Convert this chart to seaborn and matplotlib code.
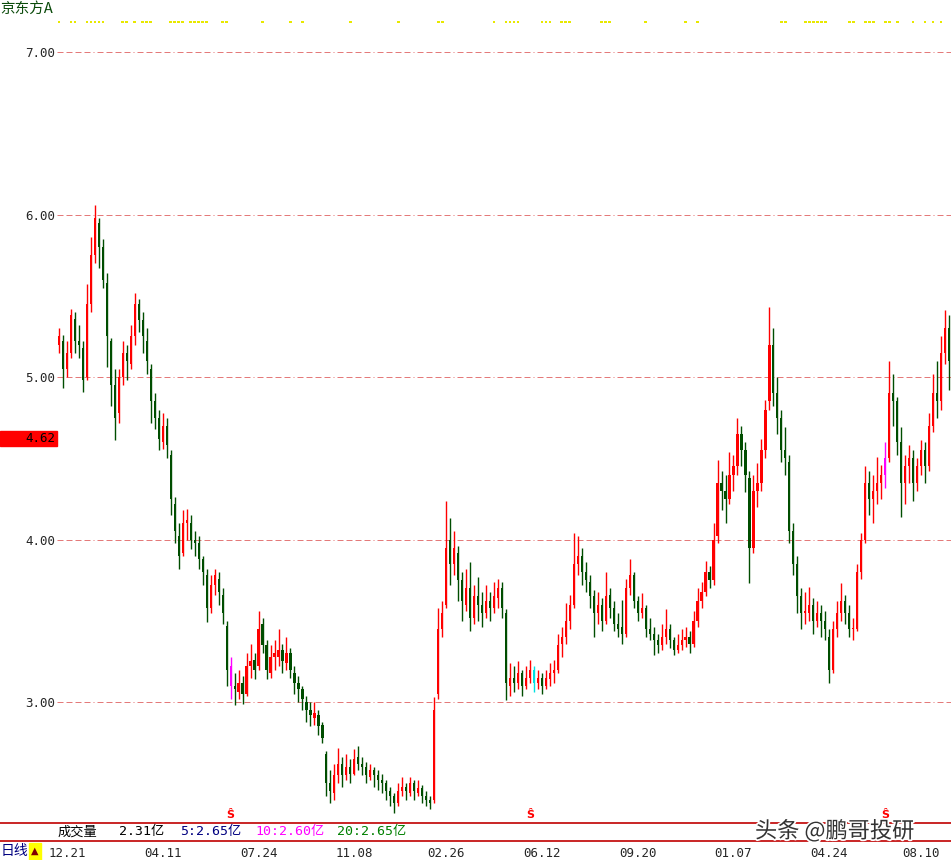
import matplotlib
matplotlib.use("Agg")
import matplotlib.pyplot as plt
import matplotlib.transforms as mtransforms
import matplotlib.patheffects as pe
from matplotlib.lines import Line2D
from matplotlib.patches import Rectangle
import numpy as np
import pandas as pd
import seaborn as sns

# daily K-line data (each bar)
opens = [5.20, 5.22, 5.05, 5.15, 5.36, 5.22, 5.18, 5.00, 5.45, 5.75,
         5.95, 5.80, 5.58, 5.22, 4.95, 4.78, 5.00, 5.15, 5.08, 5.25,
         5.45, 5.35, 5.22, 5.05, 4.85, 4.75, 4.60, 4.70, 4.52, 4.22,
         4.02, 3.92, 4.10, 4.10, 4.00, 3.98, 3.88, 3.78, 3.58, 3.72,
         3.76, 3.66, 3.47, 3.22, 3.10, 3.06, 3.12, 3.05, 3.22, 3.26,
         3.22, 3.48, 3.35, 3.18, 3.28, 3.28, 3.32, 3.24, 3.30, 3.18,
         3.12, 3.08, 3.00, 2.95, 2.90, 2.92, 2.86, 2.68, 2.50, 2.44,
         2.55, 2.62, 2.55, 2.60, 2.56, 2.66, 2.62, 2.60, 2.54, 2.58,
         2.55, 2.52, 2.50, 2.45, 2.42, 2.38, 2.45, 2.48, 2.44, 2.50,
         2.44, 2.47, 2.42, 2.40, 2.40, 3.05, 3.45, 3.60, 4.00, 3.85,
         3.92, 3.75, 3.60, 3.70, 3.52, 3.65, 3.60, 3.55, 3.62, 3.58,
         3.64, 3.70, 3.55, 3.10, 3.15, 3.12, 3.18, 3.10, 3.15, 3.20,
         3.12, 3.15, 3.10, 3.14, 3.18, 3.20, 3.36, 3.40, 3.50, 3.60,
         3.85, 3.90, 3.80, 3.74, 3.65, 3.55, 3.60, 3.50, 3.66, 3.58,
         3.48, 3.46, 3.42, 3.70, 3.78, 3.62, 3.55, 3.58, 3.45, 3.42,
         3.38, 3.35, 3.40, 3.45, 3.38, 3.32, 3.35, 3.38, 3.40, 3.36,
         3.50, 3.62, 3.68, 3.80, 3.75, 4.02, 4.35, 4.30, 4.25, 4.40,
         4.45, 4.65, 4.55, 4.38, 3.95, 4.30, 4.35, 4.55, 4.85, 5.20,
         4.90, 4.75, 4.55, 4.48, 4.05, 3.85, 3.65, 3.55, 3.55, 3.60,
         3.50, 3.55, 3.50, 3.40, 3.20, 3.45, 3.55, 3.62, 3.55, 3.45,
         3.45, 3.80, 4.00, 4.35, 4.25, 4.30, 4.35, 4.40, 4.50, 4.90,
         4.85, 4.60, 4.35, 4.45, 4.50, 4.35, 4.45, 4.55, 4.45, 4.70,
         4.90, 4.85, 5.15, 5.30]
highs = [5.30, 5.26, 5.22, 5.42, 5.40, 5.32, 5.22, 5.57, 5.86, 6.06,
         5.98, 5.85, 5.64, 5.24, 5.05, 5.05, 5.22, 5.20, 5.32, 5.52,
         5.48, 5.40, 5.30, 5.08, 4.90, 4.80, 4.78, 4.75, 4.55, 4.26,
         4.10, 4.18, 4.19, 4.15, 4.05, 4.02, 3.90, 3.82, 3.78, 3.82,
         3.80, 3.70, 3.50, 3.28, 3.18, 3.20, 3.16, 3.30, 3.36, 3.30,
         3.56, 3.52, 3.38, 3.35, 3.38, 3.45, 3.36, 3.40, 3.33, 3.22,
         3.16, 3.10, 3.04, 3.00, 3.00, 2.95, 2.88, 2.70, 2.58, 2.62,
         2.72, 2.66, 2.68, 2.65, 2.71, 2.73, 2.66, 2.63, 2.62, 2.60,
         2.58, 2.56, 2.52, 2.48, 2.44, 2.50, 2.54, 2.50, 2.54, 2.52,
         2.52, 2.49, 2.45, 2.42, 3.03, 3.58, 3.62, 4.24, 4.13, 4.05,
         3.96, 3.80, 3.82, 3.86, 3.72, 3.77, 3.68, 3.72, 3.68, 3.74,
         3.76, 3.74, 3.57, 3.24, 3.22, 3.25, 3.20, 3.22, 3.26, 3.22,
         3.20, 3.18, 3.20, 3.24, 3.26, 3.42, 3.46, 3.61, 3.66, 4.04,
         4.02, 3.95, 3.86, 3.78, 3.69, 3.68, 3.64, 3.80, 3.70, 3.62,
         3.55, 3.63, 3.76, 3.88, 3.80, 3.65, 3.67, 3.60, 3.52, 3.46,
         3.42, 3.48, 3.57, 3.48, 3.40, 3.42, 3.45, 3.46, 3.44, 3.56,
         3.70, 3.74, 3.87, 3.84, 4.10, 4.49, 4.42, 4.40, 4.54, 4.52,
         4.75, 4.70, 4.60, 4.42, 4.40, 4.47, 4.62, 4.86, 5.43, 5.30,
         5.00, 4.80, 4.69, 4.52, 4.10, 3.90, 3.70, 3.68, 3.71, 3.64,
         3.62, 3.60, 3.56, 3.45, 3.50, 3.62, 3.73, 3.66, 3.60, 3.52,
         3.85, 4.04, 4.45, 4.42, 4.40, 4.51, 4.46, 4.60, 5.10, 5.02,
         4.88, 4.69, 4.52, 4.58, 4.55, 4.50, 4.61, 4.60, 4.78, 5.02,
         5.10, 5.25, 5.41, 5.38]
lows = [5.15, 4.93, 5.00, 5.12, 5.15, 5.12, 4.91, 4.98, 5.40, 5.70,
        5.67, 5.55, 5.06, 4.82, 4.61, 4.72, 4.95, 4.98, 5.05, 5.20,
        5.28, 5.15, 5.02, 4.72, 4.68, 4.55, 4.56, 4.50, 4.15, 3.98,
        3.82, 3.90, 4.00, 3.94, 3.90, 3.82, 3.72, 3.49, 3.55, 3.66,
        3.60, 3.48, 3.10, 3.02, 2.98, 3.02, 2.99, 3.04, 3.15, 3.14,
        3.20, 3.30, 3.14, 3.15, 3.20, 3.22, 3.18, 3.20, 3.15, 3.05,
        3.00, 2.95, 2.88, 2.85, 2.86, 2.80, 2.75, 2.42, 2.38, 2.40,
        2.50, 2.48, 2.52, 2.50, 2.55, 2.58, 2.55, 2.50, 2.52, 2.48,
        2.46, 2.44, 2.40, 2.36, 2.32, 2.36, 2.42, 2.40, 2.42, 2.40,
        2.42, 2.38, 2.36, 2.34, 2.38, 3.02, 3.40, 3.58, 3.72, 3.78,
        3.62, 3.50, 3.56, 3.44, 3.48, 3.50, 3.46, 3.52, 3.50, 3.55,
        3.58, 3.52, 3.01, 3.04, 3.06, 3.08, 3.04, 3.08, 3.12, 3.06,
        3.08, 3.05, 3.08, 3.10, 3.12, 3.18, 3.28, 3.36, 3.45, 3.58,
        3.78, 3.72, 3.68, 3.58, 3.40, 3.48, 3.44, 3.48, 3.52, 3.44,
        3.40, 3.36, 3.40, 3.66, 3.58, 3.50, 3.52, 3.40, 3.38, 3.29,
        3.30, 3.32, 3.36, 3.33, 3.29, 3.30, 3.32, 3.34, 3.30, 3.34,
        3.46, 3.58, 3.65, 3.70, 3.72, 3.98, 4.18, 4.10, 4.22, 4.30,
        4.40, 4.45, 4.29, 3.73, 3.92, 4.20, 4.30, 4.50, 4.80, 4.82,
        4.65, 4.48, 4.40, 3.98, 3.78, 3.55, 3.45, 3.48, 3.50, 3.42,
        3.46, 3.40, 3.38, 3.12, 3.18, 3.40, 3.50, 3.48, 3.40, 3.38,
        3.44, 3.76, 3.98, 4.15, 4.10, 4.22, 4.25, 4.32, 4.48, 4.70,
        4.52, 4.14, 4.22, 4.35, 4.24, 4.30, 4.40, 4.35, 4.42, 4.66,
        4.75, 4.80, 5.08, 4.92]
closes = [5.25, 5.05, 5.15, 5.38, 5.22, 5.20, 4.98, 5.45, 5.75, 5.98,
          5.80, 5.60, 5.25, 4.95, 4.75, 5.00, 5.15, 5.10, 5.25, 5.45,
          5.35, 5.25, 5.10, 4.85, 4.75, 4.62, 4.70, 4.58, 4.25, 4.05,
          3.90, 4.10, 4.12, 4.00, 3.98, 3.88, 3.80, 3.58, 3.72, 3.78,
          3.68, 3.55, 3.20, 3.10, 3.08, 3.12, 3.05, 3.22, 3.25, 3.20,
          3.45, 3.35, 3.20, 3.28, 3.30, 3.32, 3.25, 3.30, 3.20, 3.12,
          3.08, 3.02, 2.95, 2.92, 2.93, 2.85, 2.78, 2.50, 2.45, 2.55,
          2.62, 2.55, 2.60, 2.56, 2.65, 2.62, 2.60, 2.55, 2.58, 2.55,
          2.52, 2.50, 2.45, 2.42, 2.38, 2.45, 2.48, 2.45, 2.50, 2.45,
          2.47, 2.42, 2.40, 2.38, 2.95, 3.45, 3.55, 3.95, 3.85, 3.95,
          3.75, 3.62, 3.70, 3.52, 3.65, 3.60, 3.55, 3.62, 3.58, 3.65,
          3.70, 3.58, 3.12, 3.15, 3.12, 3.18, 3.10, 3.15, 3.20, 3.12,
          3.15, 3.10, 3.15, 3.18, 3.20, 3.35, 3.40, 3.50, 3.60, 3.85,
          3.90, 3.80, 3.75, 3.65, 3.55, 3.60, 3.50, 3.65, 3.58, 3.48,
          3.45, 3.42, 3.70, 3.78, 3.62, 3.55, 3.58, 3.45, 3.42, 3.38,
          3.35, 3.40, 3.45, 3.38, 3.32, 3.35, 3.38, 3.40, 3.36, 3.50,
          3.62, 3.68, 3.80, 3.75, 4.00, 4.35, 4.30, 4.25, 4.40, 4.45,
          4.65, 4.55, 4.40, 3.95, 4.30, 4.35, 4.55, 4.80, 5.20, 4.90,
          4.75, 4.55, 4.50, 4.05, 3.85, 3.65, 3.55, 3.55, 3.60, 3.50,
          3.55, 3.50, 3.45, 3.20, 3.45, 3.55, 3.62, 3.55, 3.45, 3.45,
          3.80, 4.00, 4.35, 4.25, 4.30, 4.35, 4.40, 4.50, 4.90, 4.85,
          4.60, 4.35, 4.45, 4.50, 4.35, 4.45, 4.55, 4.45, 4.70, 4.90,
          4.85, 5.15, 5.30, 5.10]

# special bars (magenta / cyan) and "S" sell marks
special_bars = {43: "#ff00ff", 119: "#00e0e0", 207: "#ff00ff"}
s_marks = [43, 118, 207]

# yellow signal dots along the top
signal_days = [0, 3, 4, 7, 8, 9, 10, 11, 16, 17, 19, 21, 22, 23, 28, 29, 30, 31,
               33, 34, 35, 36, 37, 41, 42, 51, 58, 61, 73, 85, 95, 96, 109, 112,
               113, 114, 115, 121, 122, 123, 126, 127, 128, 136, 137, 138, 147,
               157, 160, 181, 182, 187, 188, 189, 190, 191, 192, 198, 199, 202,
               203, 204, 207, 208, 210, 214, 217, 219, 221]

date_pos = [2, 26, 50, 74, 97, 121, 145, 169, 193, 216]
date_labels = ["12.21", "04.11", "07.24", "11.08", "02.26",
               "06.12", "09.20", "01.07", "04.24", "08.10"]
price_ticks = [3, 4, 5, 6, 7]
last_price = 4.62

df = pd.DataFrame({"open": opens, "high": highs, "low": lows, "close": closes})
df["day"] = np.arange(len(df))

sns.set_style("white")
plt.rcParams['font.family'] = ['DejaVu Sans Mono', 'Noto Sans CJK SC']

fig = plt.figure(figsize=(9.51, 8.60), dpi=100)
ax = fig.add_axes([57/951, 37/860, 894/951, 823/860])

up_col = "#ff0000"
dn_col = "#004d00"
colors = [up_col if c >= o else dn_col for o, c in zip(df["open"], df["close"])]
for k, col in special_bars.items():
    colors[k] = col

# grid lines
for p in price_ticks:
    ax.axhline(p, color="#e47a7a", lw=0.72, dashes=(6, 3, 6, 3, 6, 3, 6, 3, 1, 3), zorder=0)

# wicks + bodies
ax.vlines(df["day"], df["low"], df["high"], colors=colors, lw=1.0, zorder=2)
body_lo = np.minimum(df["open"], df["close"])
body_h = np.maximum(np.abs(df["close"] - df["open"]), 0.008)
ax.bar(df["day"], body_h, bottom=body_lo, width=0.55, color=colors, lw=0, zorder=3)

# yellow signals
sig = pd.DataFrame({"day": signal_days, "y": 7.185})
sns.scatterplot(data=sig, x="day", y="y", ax=ax, marker="s", s=4, color="#e8e800",
                edgecolor="none", legend=False, zorder=4)

for k in s_marks:
    ax.text(k, 2.305, "Ŝ", color="#ff0000", ha="center", va="center", fontsize=8,
            fontweight="bold", family="DejaVu Sans")

ax.set_xlim(-0.5, len(df) - 0.5)
ax.set_ylim(2.2554, 7.32)
ax.set_yticks(price_ticks, [f"{p:.2f}" for p in price_ticks])
ax.set_xticks(date_pos, date_labels)
ax.tick_params(axis="y", length=0, pad=1.5, labelsize=9)
ax.tick_params(axis="x", length=0, pad=17, labelsize=9)
ax.set_xlabel("")
ax.set_ylabel("")
for s in ax.spines.values():
    s.set_visible(False)

# current price tag on the left
trans = mtransforms.blended_transform_factory(fig.transFigure, ax.transData)
ax.add_patch(Rectangle((0, last_price - 0.045), 57/951, 0.09, transform=trans,
                       color="#ff0000", clip_on=False, zorder=5))
ax.text(55/951, last_price, f"{last_price:.2f}", transform=trans, ha="right",
        va="center", fontsize=9, color="black", zorder=6)

# title
fig.text(0.5/951, 1 - 9/860, "京东方A", color="#0a4a0a", fontsize=10.5, va="center",
         family=["Noto Sans CJK SC"])

# volume strip
for yy in (823, 841):
    fig.add_artist(Line2D([0, 1], [1 - yy/860] * 2, transform=fig.transFigure,
                          color="#c00000", lw=1.2))
vol_texts = [(58, "成交量", "black"), (119, "2.31亿", "black"),
             (180, "5:2.65亿", "#000080"), (255, "10:2.60亿", "#ff00ff"),
             (337, "20:2.65亿", "#008000")]
for x0, t, c in vol_texts:
    fig.text(x0/951, 1 - 832/860, t, color=c, fontsize=9.5, va="center")

fig.text(0.5/951, 1 - 851/860, "日线", color="#000080", fontsize=10, va="center",
         family=["Noto Sans CJK SC"])
fig.add_artist(Rectangle((29/951, 0), 12/951, 17/860, transform=fig.transFigure,
                         color="#ffff00"))
fig.text(35/951, 1 - 851/860, "▲", color="#800000", fontsize=7, ha="center",
         va="center", family=["DejaVu Sans"])

# watermark
fig.text(755/951, 1 - 831/860, "头条 @鹏哥投研", color="#333333", fontsize=16,
         va="center", family=["Noto Sans CJK SC", "DejaVu Sans"],
         path_effects=[pe.withStroke(linewidth=2.5, foreground="white")])

fig.savefig("out.png", dpi=100)
